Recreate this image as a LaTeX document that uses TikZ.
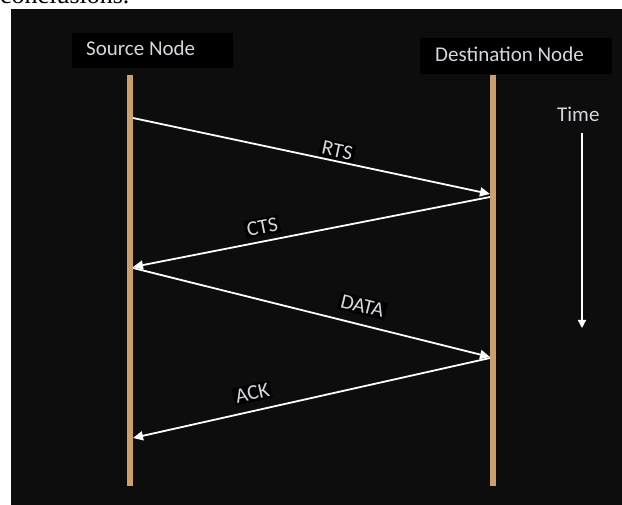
\documentclass[tikz,border=0pt]{standalone}
\usepackage{fontspec}
\setmainfont{Carlito}
\newfontfamily\serifface{Liberation Serif}
\usetikzlibrary{arrows.meta}
\definecolor{bg}{HTML}{0D0D0D}
\definecolor{lifetan}{RGB}{204,160,108}
\definecolor{txt}{RGB}{214,214,222}

\begin{document}
\begin{tikzpicture}[x=1pt,y=-1pt,
  hdrbox/.style={fill=black, draw=none, anchor=north west, inner sep=0},
  hdrtext/.style={anchor=base west, inner sep=0, text=txt, font=\fontsize{21}{25}\selectfont},
  lifeline/.style={draw=lifetan, line width=5.5pt},
  msg/.style={draw=white, line width=1.8pt, -{Triangle[length=10pt,width=9pt]}},
  lbl/.style={fill=black, text=txt, inner sep=2pt, font=\fontsize{21}{25}\selectfont, sloped},
  timearrow/.style={draw=white, line width=1.4pt, -{Triangle[length=8pt,width=8pt]}},
]
\useasboundingbox (0,0) rectangle (622,505);
\clip (0,0) rectangle (622,505);
\fill[white] (0,0) rectangle (622,505);

% tail of the preceding line of text
\node[anchor=base west, inner sep=0, font=\serifface\fontsize{26}{30}\selectfont] (prevline) at (0,4) {conclusions.};

% dark panel
\fill[bg] (11,9) rectangle (622,505);

% header boxes
\node[hdrbox, minimum width=161pt, minimum height=35pt] (srcbox) at (72,33) {};
\node[hdrtext] (srclabel) at (86,56) {Source Node};
\node[hdrbox, minimum width=192pt, minimum height=36pt] (dstbox) at (420,38) {};
\node[hdrtext] (dstlabel) at (435,62) {Destination Node};

% lifelines
\coordinate (srctop) at (130,75);
\coordinate (srcbot) at (130,486);
\coordinate (dsttop) at (493,75);
\coordinate (dstbot) at (493,486);
\draw[lifeline] (srctop) -- (srcbot);
\draw[lifeline] (dsttop) -- (dstbot);

% message end points
\coordinate (s1) at (133,118);
\coordinate (d1) at (490,194);
\coordinate (d2) at (490,197);
\coordinate (s2) at (133,267);
\coordinate (s3) at (133,268);
\coordinate (d3) at (490,357);
\coordinate (d4) at (490,358);
\coordinate (s4) at (133,438);

\draw[msg] (s1) -- node[lbl, pos=0.566, above=1pt] (rts) {RTS} (d1);
\draw[msg] (d2) -- node[lbl, pos=0.63, above=5pt] (cts) {CTS} (s2);
\draw[msg] (s3) -- node[lbl, pos=0.63, above=9pt] (data) {DATA} (d3);
\draw[msg] (d4) -- node[lbl, pos=0.655, above=8pt] (ack) {ACK} (s4);

% time axis
\node[hdrtext] (time) at (557,122) {Time};
\coordinate (t0) at (582,133);
\coordinate (t1) at (582,328);
\draw[timearrow] (t0) -- (t1);
\end{tikzpicture}
\end{document}
